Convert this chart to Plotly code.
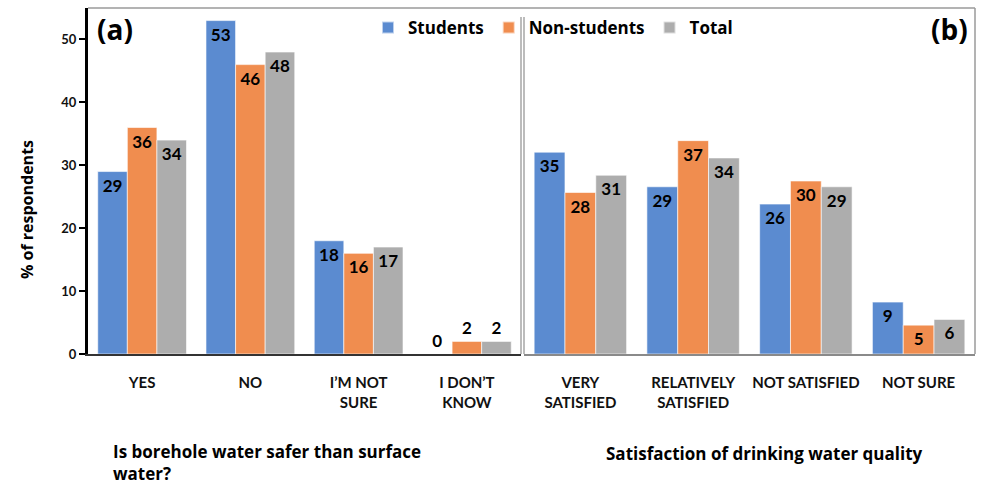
import plotly.graph_objects as go

# Panel (a): Is borehole water safer than surface water?
cats_a = ["YES", "NO", "I’M NOT<br>SURE", "I DON’T<br>KNOW"]
students_a = [29, 53, 18, 0]
nonstudents_a = [36, 46, 16, 2]
total_a = [34, 48, 17, 2]

# Panel (b): Satisfaction of drinking water quality
cats_b = ["VERY<br>SATISFIED", "RELATIVELY<br>SATISFIED", "NOT SATISFIED", "NOT SURE"]
students_b = [35, 29, 26, 9]
nonstudents_b = [28, 37, 30, 5]
total_b = [31, 34, 29, 6]

series_names = ["Students", "Non-students", "Total"]
colors = ["#5B8BD0", "#F08D4F", "#ADADAD"]

FONT = "Lato"
FONT_WIDE = "Open Sans"
W, H = 981, 489
ML, MR, MT, MB = 88, 6, 8, 135
PW = W - ML - MR
PH = H - MT - MB


def px_x(p):
    return (p - ML) / PW


def px_y(p):
    return (H - MB - p) / PH


def text_pos(vals):
    return ["inside" if v >= 5 else "outside" for v in vals]


fig = go.Figure()

panels = [
    ("x", "y", cats_a, [students_a, nonstudents_a, total_a], True),
    ("x2", "y2", cats_b, [students_b, nonstudents_b, total_b], False),
]
for xa, ya, cats, series, show in panels:
    for name, vals, col in zip(series_names, series, colors):
        fig.add_trace(go.Bar(
            x=cats, y=vals, name=name, xaxis=xa, yaxis=ya,
            marker=dict(color=col, line=dict(color="rgba(255,255,255,0.6)", width=1)),
            text=[str(v) for v in vals], textposition=text_pos(vals),
            insidetextanchor="end", textangle=0, constraintext="none",
            textfont=dict(family=FONT, size=17, color="black", weight="bold"),
            cliponaxis=False, showlegend=show, legendgroup=name,
        ))

sep_left = px_x(521)
sep_right = px_x(524)

tickfont = dict(family=FONT, size=15, color="#111", weight="bold")

fig.update_layout(
    width=W, height=H,
    margin=dict(l=ML, r=MR, t=MT, b=MB),
    paper_bgcolor="white", plot_bgcolor="white",
    barmode="group", bargap=0.18, bargroupgap=0,
    showlegend=True,
    legend=dict(
        orientation="h", x=px_x(368), xanchor="left", y=px_y(10), yanchor="top",
        font=dict(family=FONT_WIDE, size=17, color="black", weight="bold"),
        bgcolor="rgba(0,0,0,0)", itemsizing="constant", tracegroupgap=0,
        itemwidth=30,
    ),
    xaxis=dict(
        domain=[0, sep_left], anchor="y", showgrid=False,
        showline=True, linecolor="#333", linewidth=2,
        ticks="", ticklabelstandoff=14, tickfont=tickfont, fixedrange=True,
    ),
    yaxis=dict(
        domain=[0, 1], anchor="x", range=[0, 55], dtick=10, tick0=0,
        showgrid=False, zeroline=False,
        showline=True, linecolor="black", linewidth=3,
        ticks="outside", ticklen=6, tickwidth=2, tickcolor="black",
        tickfont=dict(family=FONT, size=13, color="#111", weight="bold"),
    ),
    xaxis2=dict(
        domain=[sep_right, 1], anchor="y2", showgrid=False,
        showline=True, linecolor="#8a8a8a", linewidth=2,
        ticks="", ticklabelstandoff=14, tickfont=tickfont,
    ),
    yaxis2=dict(
        domain=[0, 1], anchor="x2", range=[0, 60],
        showgrid=False, zeroline=False, showline=False, showticklabels=False,
        ticks="",
    ),
)

# Frame: top border, right border and the double separator between panels
frame = [
    dict(x0=0, x1=1, y0=1, y1=1, color="#9a9a9a", width=1.5),
    dict(x0=1, x1=1, y0=0, y1=1, color="#9a9a9a", width=1.5),
    dict(x0=sep_left, x1=sep_left, y0=0, y1=px_y(17), color="#8f8f8f", width=1.2),
    dict(x0=sep_right, x1=sep_right, y0=0, y1=px_y(17), color="#8f8f8f", width=1.2),
]
for f in frame:
    fig.add_shape(type="line", xref="paper", yref="paper",
                  x0=f["x0"], x1=f["x1"], y0=f["y0"], y1=f["y1"],
                  line=dict(color=f["color"], width=f["width"]))

annotations = [
    dict(text="(a)", x=px_x(95), y=px_y(8), xanchor="left", yanchor="top",
         font=dict(family=FONT_WIDE, size=28, color="black", weight="bold")),
    dict(text="(b)", x=px_x(970), y=px_y(8), xanchor="right", yanchor="top",
         font=dict(family=FONT_WIDE, size=28, color="black", weight="bold")),
    dict(text="% of respondents", x=px_x(27), y=px_y(210), xanchor="center",
         yanchor="middle", textangle=-90,
         font=dict(family=FONT_WIDE, size=16, color="black", weight="bold")),
    dict(text="Is borehole water safer than surface<br>water?", x=px_x(111),
         y=px_y(438), xanchor="left", yanchor="top", align="left",
         font=dict(family=FONT_WIDE, size=17, color="black", weight="bold")),
    dict(text="Satisfaction of drinking water quality", x=px_x(764),
         y=px_y(453), xanchor="center", yanchor="middle",
         font=dict(family=FONT_WIDE, size=17, color="black", weight="bold")),
]
for a in annotations:
    fig.add_annotation(xref="paper", yref="paper", showarrow=False, **a)

fig.write_html("out.html")
